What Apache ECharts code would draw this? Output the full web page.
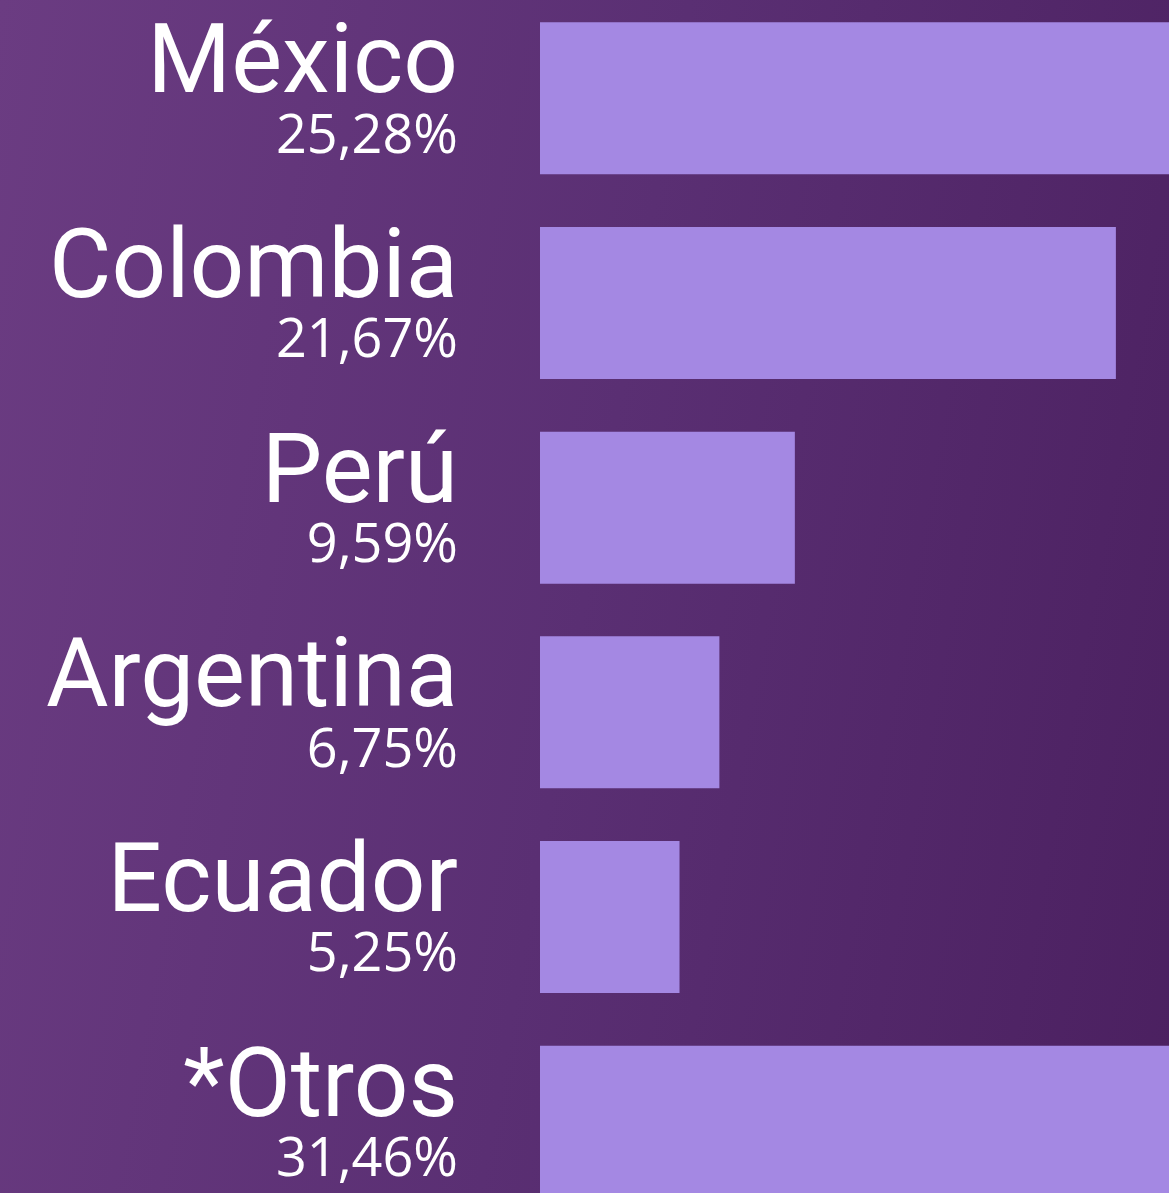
<!DOCTYPE html>
<html lang="es">
<head>
    <meta charset="UTF-8">
    <title>Países</title>
    <script src="https://cdn.jsdelivr.net/npm/echarts@6/dist/echarts.min.js"></script>
    <style>
        html, body, #main {
            width: 100%;
            height: 100%;
            padding: 0;
            margin: 0;
        }
        body {
            background: linear-gradient(100deg, #6b3c82 0%, #5a2f73 50%, #4b2060 100%);
        }
    </style>
</head>
<body>
<div id="main"></div>
<script>
    // datos
    var paises = ['México', 'Colombia', 'Perú', 'Argentina', 'Ecuador', '*Otros'];
    var valores = [25.28, 21.67, 9.59, 6.75, 5.25, 31.46];
    var etiquetas = ['25,28%', '21,67%', '9,59%', '6,75%', '5,25%', '31,46%'];

    var myChart = echarts.init(document.getElementById('main'));

    myChart.setOption({
        backgroundColor: 'transparent',
        animation: false,
        grid: {
            left: 540,
            top: -4,
            width: 1063,
            height: 1228,
            outerBoundsMode: 'none',
            containLabel: false
        },
        xAxis: {
            type: 'value',
            min: 0,
            max: 40,
            show: false
        },
        yAxis: {
            type: 'category',
            data: paises,
            inverse: true,
            axisLine: { show: false },
            axisTick: { show: false },
            axisLabel: {
                margin: 82,
                align: 'right',
                formatter: function (value, idx) {
                    return '{n|' + value + '}\n{p|' + etiquetas[idx] + '}';
                },
                rich: {
                    n: {
                        fontFamily: 'Roboto',
                        fontSize: 96,
                        lineHeight: 78,
                        color: '#ffffff',
                        align: 'right'
                    },
                    p: {
                        fontFamily: 'Open Sans',
                        fontSize: 54,
                        lineHeight: 60,
                        color: '#ffffff',
                        align: 'right'
                    }
                }
            }
        },
        series: [
            {
                type: 'bar',
                data: valores,
                barWidth: 152,
                itemStyle: {
                    color: '#a488e3'
                }
            }
        ]
    });
</script>
</body>
</html>
